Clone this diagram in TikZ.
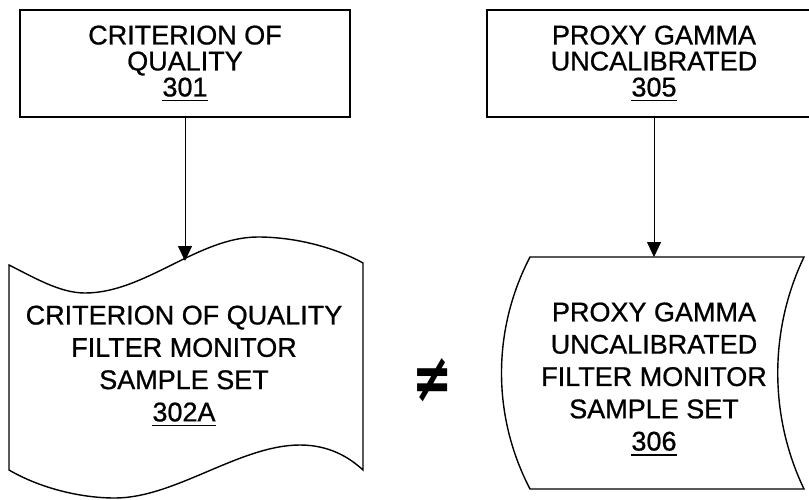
\documentclass[tikz,border=0pt]{standalone}
\usepackage{fontspec}
\usepackage{graphicx}
\setmainfont{Liberation Sans}[FakeBold=0.8]
\newfontfamily\symfont{DejaVu Sans}
\usetikzlibrary{arrows.meta}
\newcommand\unum[1]{\setbox0=\hbox{#1}\rlap{\rule[-5pt]{\wd0}{1.8pt}}\box0}
\begin{document}
\begin{tikzpicture}[x=1pt,y=-1pt,
  box/.style={draw, line width=1.6pt, inner sep=0pt, align=center, font=\fontsize{27}{26}\selectfont},
  shapeline/.style={draw, line width=1.4pt},
  lbl/.style={align=center, inner sep=0pt, font=\fontsize{27}{32.3}\selectfont},
  conn/.style={line width=0.8pt, -{Triangle[width=14pt,length=15pt]}}]
\clip (0,0) rectangle (809,499);
\useasboundingbox (0,0) rectangle (809,499);
% top boxes
\node[box, minimum width=330pt, minimum height=107pt] (b301) at (185,63.5) {CRITERION OF\\QUALITY\\\unum{301}};
\node[box, minimum width=334pt, minimum height=107pt] (b305) at (654,63.5) {PROXY GAMMA\\UNCALIBRATED\\\unum{305}};
% 302A tape shape
\draw[shapeline] (9,265) .. controls (35,278) and (60,293) .. (85,293)
  .. controls (145,293) and (198,237) .. (258,237)
  .. controls (300,237) and (340,250) .. (363,263) -- (363,470)
  .. controls (350,458) and (330,445) .. (300,445)
  .. controls (240,445) and (175,498) .. (115,498)
  .. controls (80,498) and (40,488) .. (9,470) -- cycle;
\coordinate (in302) at (185,261);
\node[lbl] (t302) at (184,366) {CRITERION OF QUALITY\\FILTER MONITOR\\SAMPLE SET\\\unum{302A}};
% 306 stored data shape
\draw[shapeline] (530,257) -- (804,257) .. controls (769,330) and (769,416) .. (804,489)
  -- (530,489) .. controls (492,416) and (492,330) .. (530,257) -- cycle;
\coordinate (in306) at (654,257);
\node[lbl] (t306) at (654,379) {PROXY GAMMA\\UNCALIBRATED\\FILTER MONITOR\\SAMPLE SET\\\unum{306}};
% connectors
\draw[conn] (b301.south) -- (in302);
\draw[conn] (b305.south) -- (in306);
% not equal
\node[inner sep=0pt, font=\symfont\bfseries\fontsize{40}{40}\selectfont] (ne) at (433,380) {\scalebox{1.2}[1.7]{≠}};
\end{tikzpicture}
\end{document}
